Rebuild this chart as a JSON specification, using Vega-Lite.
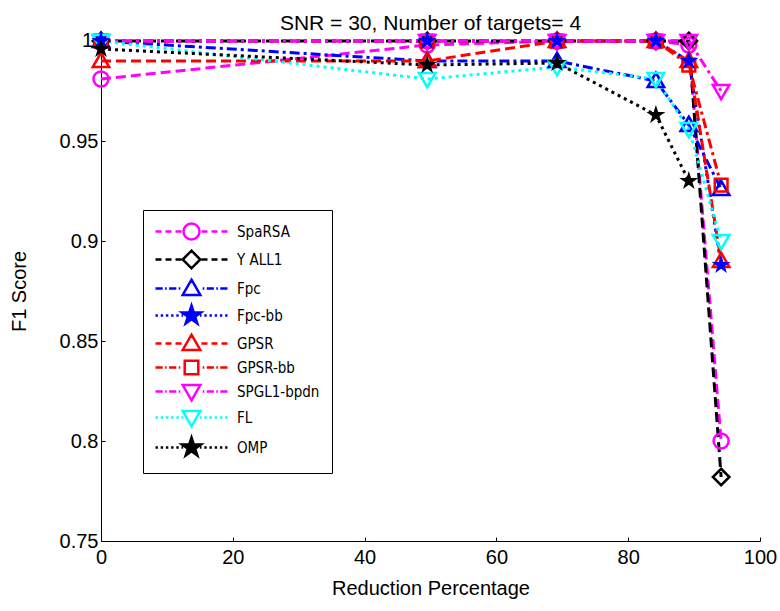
{
  "$schema": "https://vega.github.io/schema/vega-lite/v6.json",
  "width": 659,
  "height": 500,
  "autosize": {"type": "none"},
  "padding": {"left": 101, "top": 41, "right": 20, "bottom": 70},
  "background": "white",
  "title": {
    "text": "SNR = 30, Number of targets= 4",
    "font": "Liberation Sans",
    "fontSize": 21,
    "fontWeight": "normal",
    "color": "#000000",
    "anchor": "middle",
    "frame": "group",
    "offset": 13,
    "dy": 19
  },
  "config": {
    "view": {"stroke": null},
    "axis": {
      "grid": false,
      "domainColor": "#000000",
      "domainWidth": 1,
      "tickColor": "#000000",
      "tickSize": -4,
      "labelFlush": false,
      "labelOverlap": false,
      "labelBound": false,
      "labelFont": "Liberation Sans",
      "labelFontSize": 20,
      "labelColor": "#000000",
      "titleFont": "Liberation Sans",
      "titleFontSize": 20,
      "titleFontWeight": "normal",
      "titleColor": "#000000"
    }
  },
  "datasets": {
    "toplabel": [{"x": 0, "y": 1, "t": "1"}]
  },
  "data": {
    "values": [
      {"x": 0, "y": 0.981, "series": "SpaRSA"},
      {"x": 49.5, "y": 0.998, "series": "SpaRSA"},
      {"x": 69.2, "y": 1.0, "series": "SpaRSA"},
      {"x": 84.2, "y": 1.0, "series": "SpaRSA"},
      {"x": 89.2, "y": 0.998, "series": "SpaRSA"},
      {"x": 94.1, "y": 0.8, "series": "SpaRSA"},
      {"x": 0, "y": 1.0, "series": "Y ALL1"},
      {"x": 49.5, "y": 1.0, "series": "Y ALL1"},
      {"x": 69.2, "y": 1.0, "series": "Y ALL1"},
      {"x": 84.2, "y": 1.0, "series": "Y ALL1"},
      {"x": 89.2, "y": 1.0, "series": "Y ALL1"},
      {"x": 94.1, "y": 0.782, "series": "Y ALL1"},
      {"x": 0, "y": 1.0, "series": "Fpc"},
      {"x": 49.5, "y": 0.99, "series": "Fpc"},
      {"x": 69.2, "y": 0.99, "series": "Fpc"},
      {"x": 84.2, "y": 0.98, "series": "Fpc"},
      {"x": 89.2, "y": 0.958, "series": "Fpc"},
      {"x": 94.1, "y": 0.926, "series": "Fpc"},
      {"x": 0, "y": 1.0, "series": "Fpc-bb"},
      {"x": 49.5, "y": 1.0, "series": "Fpc-bb"},
      {"x": 69.2, "y": 1.0, "series": "Fpc-bb"},
      {"x": 84.2, "y": 1.0, "series": "Fpc-bb"},
      {"x": 89.2, "y": 0.99, "series": "Fpc-bb"},
      {"x": 94.1, "y": 0.888, "series": "Fpc-bb"},
      {"x": 0, "y": 0.99, "series": "GPSR"},
      {"x": 49.5, "y": 0.99, "series": "GPSR"},
      {"x": 69.2, "y": 1.0, "series": "GPSR"},
      {"x": 84.2, "y": 1.0, "series": "GPSR"},
      {"x": 89.2, "y": 0.99, "series": "GPSR"},
      {"x": 94.1, "y": 0.89, "series": "GPSR"},
      {"x": 0, "y": 1.0, "series": "GPSR-bb"},
      {"x": 49.5, "y": 1.0, "series": "GPSR-bb"},
      {"x": 69.2, "y": 1.0, "series": "GPSR-bb"},
      {"x": 84.2, "y": 1.0, "series": "GPSR-bb"},
      {"x": 89.2, "y": 0.988, "series": "GPSR-bb"},
      {"x": 94.1, "y": 0.928, "series": "GPSR-bb"},
      {"x": 0, "y": 1.0, "series": "SPGL1-bpdn"},
      {"x": 49.5, "y": 1.0, "series": "SPGL1-bpdn"},
      {"x": 69.2, "y": 1.0, "series": "SPGL1-bpdn"},
      {"x": 84.2, "y": 1.0, "series": "SPGL1-bpdn"},
      {"x": 89.2, "y": 1.0, "series": "SPGL1-bpdn"},
      {"x": 94.1, "y": 0.975, "series": "SPGL1-bpdn"},
      {"x": 0, "y": 1.0, "series": "FL"},
      {"x": 49.5, "y": 0.981, "series": "FL"},
      {"x": 69.2, "y": 0.987, "series": "FL"},
      {"x": 84.2, "y": 0.981, "series": "FL"},
      {"x": 89.2, "y": 0.956, "series": "FL"},
      {"x": 94.1, "y": 0.9, "series": "FL"},
      {"x": 0, "y": 0.996, "series": "OMP"},
      {"x": 49.5, "y": 0.988, "series": "OMP"},
      {"x": 69.2, "y": 0.989, "series": "OMP"},
      {"x": 84.2, "y": 0.963, "series": "OMP"},
      {"x": 89.2, "y": 0.93, "series": "OMP"}
    ]
  },
  "encoding": {
    "x": {
      "field": "x",
      "type": "quantitative",
      "scale": {"domain": [0, 100], "nice": false, "zero": false},
      "axis": {"values": [0, 20, 40, 60, 80, 100], "title": "Reduction Percentage", "labelPadding": 10, "titlePadding": 11}
    },
    "y": {
      "field": "y",
      "type": "quantitative",
      "scale": {"domain": [0.75, 1.0], "nice": false, "zero": false},
      "axis": {"values": [0.75, 0.8, 0.85, 0.9, 0.95], "format": "~g", "title": "F1 Score", "labelPadding": 7, "titlePadding": 30}
    }
  },
  "layer": [
    {
      "mark": {"type": "line", "strokeWidth": 3, "clip": false},
      "encoding": {
        "color": {
          "field": "series", "type": "nominal", "legend": null,
          "scale": {"domain": ["SpaRSA", "Y ALL1", "Fpc", "Fpc-bb", "GPSR", "GPSR-bb", "SPGL1-bpdn", "FL", "OMP"],
                    "range": ["#ff00ff", "#000000", "#0000ff", "#0000ff", "#ff0000", "#ff0000", "#ff00ff", "#00ffff", "#000000"]}
        },
        "strokeDash": {
          "field": "series", "type": "nominal", "legend": null,
          "scale": {"domain": ["SpaRSA", "Y ALL1", "Fpc", "Fpc-bb", "GPSR", "GPSR-bb", "SPGL1-bpdn", "FL", "OMP"],
                    "range": [[10, 5], [10, 5], [10, 4, 3, 4], [3, 4], [10, 5], [10, 4, 3, 4], [10, 4, 3, 4], [3, 4], [3, 4]]}
        }
      }
    },
    {
      "transform": [{"filter": "datum.series !== 'Fpc-bb' && datum.series !== 'OMP'"}],
      "mark": {"type": "point", "filled": false, "strokeWidth": 2.5, "size": 225, "opacity": 1, "clip": false},
      "encoding": {
        "color": {
          "field": "series", "type": "nominal", "legend": null,
          "scale": {"domain": ["SpaRSA", "Y ALL1", "Fpc", "Fpc-bb", "GPSR", "GPSR-bb", "SPGL1-bpdn", "FL", "OMP"],
                    "range": ["#ff00ff", "#000000", "#0000ff", "#0000ff", "#ff0000", "#ff0000", "#ff00ff", "#00ffff", "#000000"]}
        },
        "shape": {
          "field": "series", "type": "nominal", "legend": null,
          "scale": {"domain": ["SpaRSA", "Y ALL1", "Fpc", "Fpc-bb", "GPSR", "GPSR-bb", "SPGL1-bpdn", "FL", "OMP"],
                    "range": [
                      "M1,0A1,1,0,1,1,-1,0A1,1,0,1,1,1,0Z",
                      "M0,-1.1L1.1,0L0,1.1L-1.1,0Z",
                      "M0,-1.1L1.1,0.8L-1.1,0.8Z",
                      "M0,-1.25L0.28,-0.39L1.19,-0.39L0.45,0.15L0.73,1.01L0,0.48L-0.73,1.01L-0.45,0.15L-1.19,-0.39L-0.28,-0.39Z",
                      "M0,-1.1L1.1,0.8L-1.1,0.8Z",
                      "M-0.85,-0.85H0.85V0.85H-0.85Z",
                      "M0,1.1L1.1,-0.8L-1.1,-0.8Z",
                      "M0,1.1L1.1,-0.8L-1.1,-0.8Z",
                      "M0,-1.25L0.28,-0.39L1.19,-0.39L0.45,0.15L0.73,1.01L0,0.48L-0.73,1.01L-0.45,0.15L-1.19,-0.39L-0.28,-0.39Z"
                    ]}
        }
      }
    },
    {
      "transform": [{"filter": "datum.series === 'Fpc-bb' || datum.series === 'OMP'"}],
      "mark": {"type": "point", "filled": true, "opacity": 1, "size": 256, "strokeWidth": 1,
               "shape": "M0,-1.25L0.28,-0.39L1.19,-0.39L0.45,0.15L0.73,1.01L0,0.48L-0.73,1.01L-0.45,0.15L-1.19,-0.39L-0.28,-0.39Z", "clip": false},
      "encoding": {
        "color": {
          "field": "series", "type": "nominal", "legend": null,
          "scale": {"domain": ["SpaRSA", "Y ALL1", "Fpc", "Fpc-bb", "GPSR", "GPSR-bb", "SPGL1-bpdn", "FL", "OMP"],
                    "range": ["#ff00ff", "#000000", "#0000ff", "#0000ff", "#ff0000", "#ff0000", "#ff00ff", "#00ffff", "#000000"]}
        }
      }
    },
    {
      "data": {"name": "toplabel"},
      "mark": {"type": "text", "align": "right", "baseline": "middle", "dx": -8, "font": "Liberation Sans", "fontSize": 20, "color": "#000000", "clip": false},
      "encoding": {
        "text": {"field": "t", "type": "nominal"}
      }
    },
    {
      "transform": [{"filter": "datum.x < -1"}],
      "mark": {"type": "point", "filled": false, "strokeWidth": 2.5, "size": 256, "opacity": 1},
      "encoding": {
        "color": {
          "field": "series", "type": "nominal",
          "scale": {"domain": ["SpaRSA", "Y ALL1", "Fpc", "Fpc-bb", "GPSR", "GPSR-bb", "SPGL1-bpdn", "FL", "OMP"],
                    "range": ["#ff00ff", "#000000", "#0000ff", "#0000ff", "#ff0000", "#ff0000", "#ff00ff", "#00ffff", "#000000"]},
          "legend": {
            "title": null, "orient": "none", "legendX": 42, "legendY": 169,
            "padding": 12, "strokeColor": "#000000", "fillColor": "#ffffff",
            "symbolSize": 256, "symbolStrokeWidth": 2.5, "symbolOffset": 27,
            "labelOffset": 36, "labelFont": "Liberation Sans Narrow, DejaVu Sans Condensed, Roboto, sans-serif",
            "labelFontSize": 15, "labelColor": "#000000", "rowPadding": 0
          }
        },
        "shape": {
          "field": "series", "type": "nominal",
          "scale": {"domain": ["SpaRSA", "Y ALL1", "Fpc", "Fpc-bb", "GPSR", "GPSR-bb", "SPGL1-bpdn", "FL", "OMP"],
                    "range": [
                      "M-4.5,0H-3.75M-3.25,0H-2.5M-2,0H-1.25M1.25,0H2M2.5,0H3.25M3.75,0H4.5M1,0A1,1,0,1,1,-1,0A1,1,0,1,1,1,0Z",
                      "M-4.5,0H-3.75M-3.25,0H-2.5M-2,0H-1.25M1.25,0H2M2.5,0H3.25M3.75,0H4.5M0,-1.1L1.1,0L0,1.1L-1.1,0Z",
                      "M-4.5,0H-3.6M-3.3,0H-3.1M-2.8,0H-1.9M-1.6,0H-1.4M1.4,0H1.6M1.9,0H2.8M3.1,0H3.3M3.6,0H4.5M0,-1.1L1.1,0.8L-1.1,0.8Z",
                      "M-4.5,0H-4.2M-3.85,0H-3.55M-3.2,0H-2.9M-2.55,0H-2.25M-1.9,0H-1.6M-1.25,0H-1.05M1.05,0H1.25M1.6,0H1.9M2.25,0H2.55M2.9,0H3.2M3.55,0H3.85M4.2,0H4.5M0,-1.25L0.28,-0.39L1.19,-0.39L0.45,0.15L0.73,1.01L0,0.48L-0.73,1.01L-0.45,0.15L-1.19,-0.39L-0.28,-0.39ZM0,-0.875L0.196,-0.273L0.833,-0.273L0.315,0.105L0.511,0.707L0,0.336L-0.511,0.707L-0.315,0.105L-0.833,-0.273L-0.196,-0.273ZM0,-0.5L0.112,-0.156L0.476,-0.156L0.18,0.06L0.292,0.404L0,0.192L-0.292,0.404L-0.18,0.06L-0.476,-0.156L-0.112,-0.156ZM0,-0.19L0.04,-0.06L0.18,-0.06L0.07,0.02L0.11,0.15L0,0.07L-0.11,0.15L-0.07,0.02L-0.18,-0.06L-0.04,-0.06Z",
                      "M-4.5,0H-3.75M-3.25,0H-2.5M-2,0H-1.25M1.25,0H2M2.5,0H3.25M3.75,0H4.5M0,-1.1L1.1,0.8L-1.1,0.8Z",
                      "M-4.5,0H-3.6M-3.3,0H-3.1M-2.8,0H-1.9M-1.6,0H-1.4M1.4,0H1.6M1.9,0H2.8M3.1,0H3.3M3.6,0H4.5M-0.85,-0.85H0.85V0.85H-0.85Z",
                      "M-4.5,0H-3.6M-3.3,0H-3.1M-2.8,0H-1.9M-1.6,0H-1.4M1.4,0H1.6M1.9,0H2.8M3.1,0H3.3M3.6,0H4.5M0,1.1L1.1,-0.8L-1.1,-0.8Z",
                      "M-4.5,0H-4.2M-3.85,0H-3.55M-3.2,0H-2.9M-2.55,0H-2.25M-1.9,0H-1.6M-1.25,0H-1.05M1.05,0H1.25M1.6,0H1.9M2.25,0H2.55M2.9,0H3.2M3.55,0H3.85M4.2,0H4.5M0,1.1L1.1,-0.8L-1.1,-0.8Z",
                      "M-4.5,0H-4.2M-3.85,0H-3.55M-3.2,0H-2.9M-2.55,0H-2.25M-1.9,0H-1.6M-1.25,0H-1.05M1.05,0H1.25M1.6,0H1.9M2.25,0H2.55M2.9,0H3.2M3.55,0H3.85M4.2,0H4.5M0,-1.25L0.28,-0.39L1.19,-0.39L0.45,0.15L0.73,1.01L0,0.48L-0.73,1.01L-0.45,0.15L-1.19,-0.39L-0.28,-0.39ZM0,-0.875L0.196,-0.273L0.833,-0.273L0.315,0.105L0.511,0.707L0,0.336L-0.511,0.707L-0.315,0.105L-0.833,-0.273L-0.196,-0.273ZM0,-0.5L0.112,-0.156L0.476,-0.156L0.18,0.06L0.292,0.404L0,0.192L-0.292,0.404L-0.18,0.06L-0.476,-0.156L-0.112,-0.156ZM0,-0.19L0.04,-0.06L0.18,-0.06L0.07,0.02L0.11,0.15L0,0.07L-0.11,0.15L-0.07,0.02L-0.18,-0.06L-0.04,-0.06Z"
                    ]},
          "legend": {
            "title": null, "orient": "none", "legendX": 42, "legendY": 169,
            "padding": 12, "strokeColor": "#000000", "fillColor": "#ffffff",
            "symbolSize": 256, "symbolStrokeWidth": 2.5, "symbolOffset": 27,
            "labelOffset": 36, "labelFont": "Liberation Sans Narrow, DejaVu Sans Condensed, Roboto, sans-serif",
            "labelFontSize": 15, "labelColor": "#000000", "rowPadding": 0
          }
        }
      }
    }
  ],
  "resolve": {"scale": {"color": "independent", "shape": "independent", "strokeDash": "independent"}}
}
